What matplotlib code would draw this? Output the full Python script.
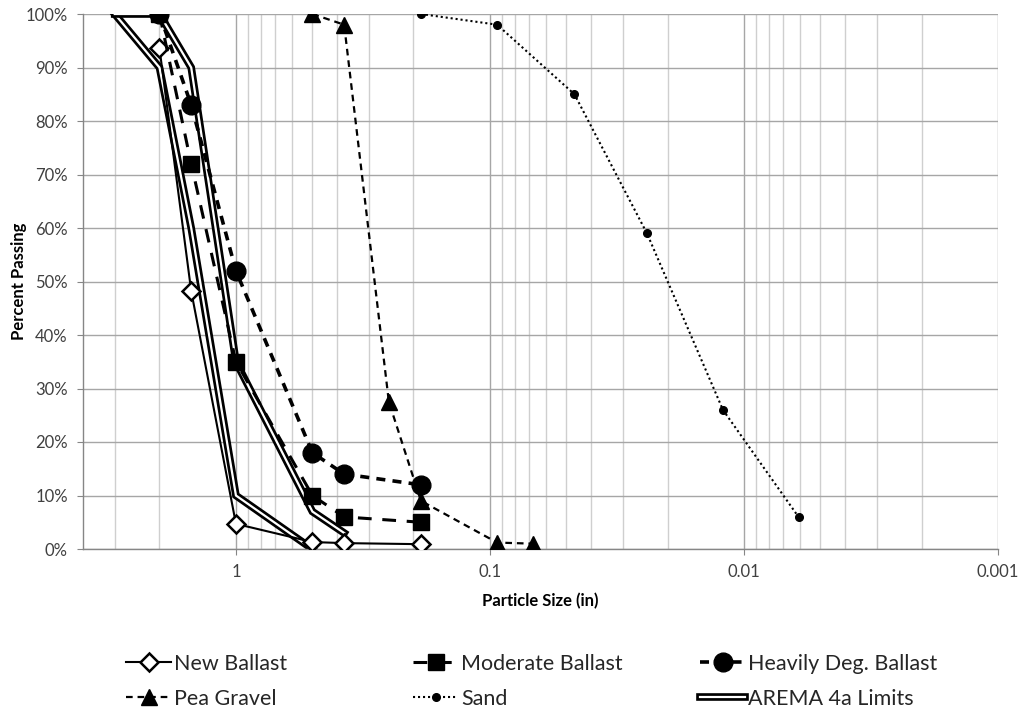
import matplotlib
matplotlib.use("Agg")
import matplotlib.pyplot as plt
import matplotlib.patheffects as pe
from matplotlib.ticker import FixedLocator, PercentFormatter
import numpy as np

plt.rcParams['font.family'] = ['Lato', 'DejaVu Sans']

# --- data (sizes in inches, values in % passing) ---
ballast_sizes = [2, 1.5, 1, 0.5, 0.375, 0.187]
new_ballast = [93.6, 48.2, 4.7, 1.3, 1.1, 0.9]
moderate_ballast = [100, 72, 35, 10, 6, 5]
heavy_ballast = [100, 83, 52, 18, 14, 12]

pea_sizes = [0.5, 0.375, 0.25, 0.187, 0.0937, 0.068]
pea_gravel = [100, 98, 27.5, 9, 1.2, 1.0]

sand_sizes = [0.187, 0.0937, 0.0465, 0.0241, 0.0121, 0.0061]
sand = [100, 98, 85, 59, 26, 6]

arema_lower_sizes = [3, 2, 1.5, 1, 0.5]
arema_lower = [100, 90, 60, 10, 0]
arema_upper_sizes = [3, 2, 1.5, 1, 0.5, 0.375]
arema_upper = [100, 100, 90, 35, 7, 3]

x_ticks = [1, 0.1, 0.01, 0.001]
x_tick_labels = ["1", "0.1", "0.01", "0.001"]

fig = plt.figure(figsize=(10.18, 7.15), dpi=100)
ax = fig.add_axes([83 / 1018, 166 / 715, 915 / 1018, 535 / 715])

# AREMA limits as a double line (black outline with white core)
double = [pe.Stroke(linewidth=5.5, foreground='black'), pe.Normal()]
ax.plot(arema_lower_sizes, arema_lower, color='white', lw=1.6,
        path_effects=double, zorder=2, solid_joinstyle='miter')
arema_line, = ax.plot(arema_upper_sizes, arema_upper, color='white', lw=1.6,
                      path_effects=double, zorder=2, solid_joinstyle='miter',
                      label="AREMA 4a Limits")

h_new, = ax.plot(ballast_sizes, new_ballast, color='black', lw=1.5, marker='D',
                 markersize=9.5, markerfacecolor='white', markeredgecolor='black',
                 markeredgewidth=1.8, zorder=4, label="New Ballast")
h_mod, = ax.plot(ballast_sizes, moderate_ballast, color='black', lw=2.2,
                 linestyle=(0, (4.5, 3.5)), marker='s', markersize=12,
                 zorder=5, label="Moderate Ballast")
h_heavy, = ax.plot(ballast_sizes, heavy_ballast, color='black', lw=2.6,
                   linestyle=(0, (2.5, 2.0)), marker='o', markersize=13.5,
                   zorder=5, label="Heavily Deg. Ballast")
h_pea, = ax.plot(pea_sizes, pea_gravel, color='black', lw=1.6,
                 linestyle=(0, (3, 2.2)), marker='^', markersize=11,
                 zorder=5, label="Pea Gravel")
h_sand, = ax.plot(sand_sizes, sand, color='black', lw=1.5,
                  linestyle=(0, (1, 1.4)), marker='o', markersize=5.5,
                  zorder=5, label="Sand")

ax.set_xscale('log')
ax.set_xlim(4, 0.001)
ax.set_ylim(0, 100)

ax.xaxis.set_major_locator(FixedLocator(x_ticks))
ax.set_xticklabels(x_tick_labels)
minor = [m * 10.0 ** k for k in range(-3, 1) for m in range(2, 10) if m * 10.0 ** k < 4]
ax.xaxis.set_minor_locator(FixedLocator(minor))
ax.xaxis.set_minor_formatter(plt.NullFormatter())
ax.set_yticks(np.arange(0, 101, 10))
ax.yaxis.set_major_formatter(PercentFormatter(decimals=0))

ax.grid(True, which='major', color='#a6a6a6', lw=1.0)
ax.grid(True, which='minor', axis='x', color='#cfcfcf', lw=1.0)
ax.set_axisbelow(True)

for side in ['top', 'right']:
    ax.spines[side].set_visible(False)
for side in ['left', 'bottom']:
    ax.spines[side].set_color('#868686')
    ax.spines[side].set_linewidth(1.0)

ax.tick_params(axis='both', which='major', direction='out', length=4,
               color='#868686', labelsize=12, labelcolor='#404040', pad=7)
ax.tick_params(axis='x', which='minor', length=0)

ax.set_xlabel("Particle Size (in)", fontsize=12, fontweight='bold')
ax.set_ylabel("Percent Passing", fontsize=12, fontweight='bold')
ax.xaxis.set_label_coords(0.5, -0.082)
ax.yaxis.set_label_coords(-0.061, 0.5)

# legend: three columns of two entries each, placed like the reference
columns = [([h_new, h_pea], 126), ([h_mod, h_sand], 413), ([h_heavy, arema_line], 700)]
for handles, xpix in columns:
    leg = fig.legend(handles=handles, loc='upper left',
                     bbox_to_anchor=(xpix / 1018, 1 - 654 / 715),
                     frameon=False, fontsize=15.5, handlelength=2.1,
                     handletextpad=0.15, labelspacing=0.68, numpoints=1,
                     borderaxespad=0, borderpad=0)
    for txt in leg.get_texts():
        txt.set_color('#262626')

fig.savefig("out.png", dpi=100)
